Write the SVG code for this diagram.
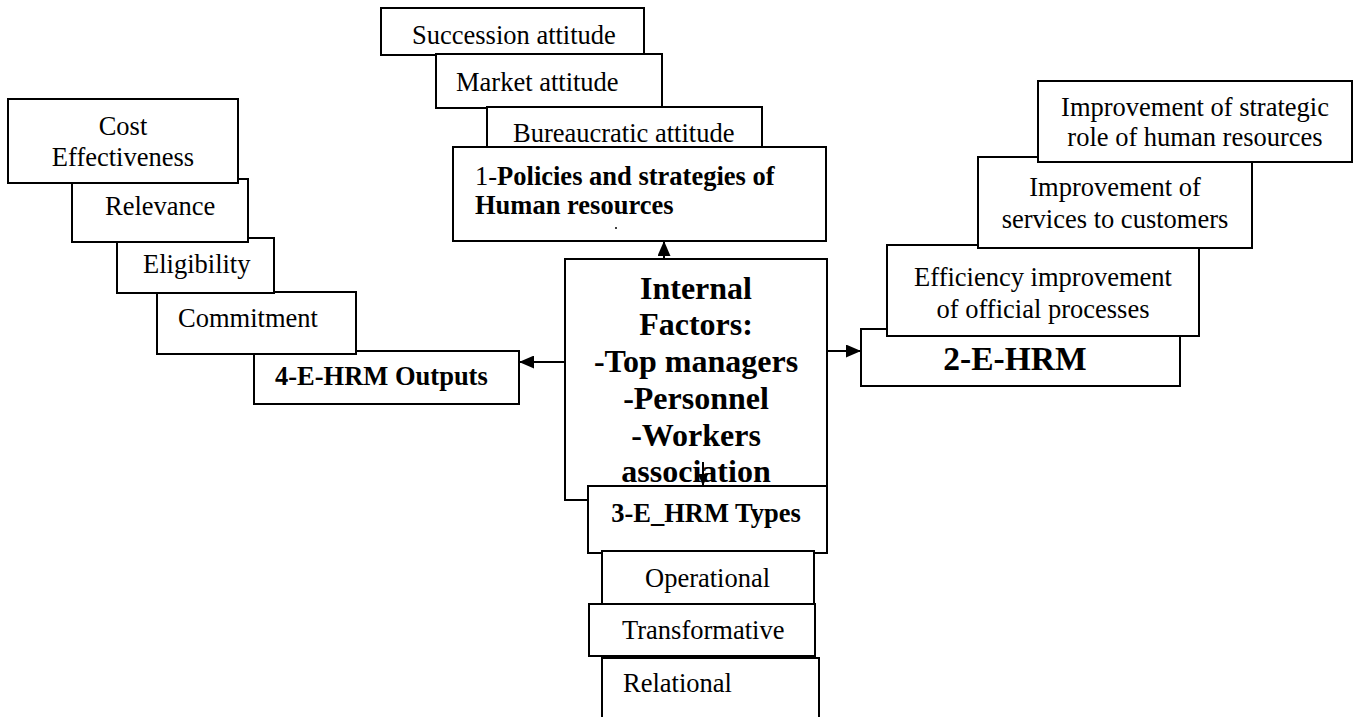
<svg xmlns="http://www.w3.org/2000/svg" width="1357" height="717" viewBox="0 0 1357 717">
<style>
.box{fill:#fff;stroke:#000;stroke-width:2}
.t{font-family:"Liberation Serif","Times New Roman",serif;font-size:26.5px;fill:#000}
.b{font-weight:bold}
.c{text-anchor:middle}
.ln{stroke:#000;stroke-width:2;fill:none}
</style>
<defs>
<marker id="arr" markerUnits="userSpaceOnUse" markerWidth="15" markerHeight="13" refX="15" refY="6.5" orient="auto">
<path d="M0,0 L15,6.5 L0,13 z" fill="#000"/>
</marker>
<marker id="arrs" markerUnits="userSpaceOnUse" markerWidth="12" markerHeight="10" refX="12" refY="5" orient="auto">
<path d="M0,0 L12,5 L0,10 z" fill="#000"/>
</marker>
</defs>
<rect width="1357" height="717" fill="#fff"/>

<g id="succession">
<rect class="box" x="381" y="8" width="263" height="47"/>
<text class="t" x="412" y="44">Succession attitude</text>
</g>
<g id="market">
<rect class="box" x="436" y="54" width="226" height="54"/>
<text class="t" x="456" y="91">Market attitude</text>
</g>
<g id="bureaucratic">
<rect class="box" x="487" y="107" width="275" height="50"/>
<text class="t" x="513" y="142">Bureaucratic attitude</text>
</g>
<g id="policies">
<rect class="box" x="453" y="147" width="373" height="94"/>
<text class="t" x="475" y="185">1-<tspan class="b">Policies and strategies of</tspan></text>
<text class="t b" x="475" y="214">Human resources</text>
<circle cx="616" cy="228" r="1" fill="#000"/>
</g>

<g id="ehrm-outputs">
<rect class="box" x="254" y="351" width="265" height="53"/>
<text class="t b" x="275" y="385">4-E-HRM Outputs</text>
</g>
<g id="commitment">
<rect class="box" x="157" y="292" width="199" height="62"/>
<text class="t" x="178" y="327">Commitment</text>
</g>
<g id="eligibility">
<rect class="box" x="117" y="238" width="157" height="55"/>
<text class="t" x="143" y="273">Eligibility</text>
</g>
<g id="relevance">
<rect class="box" x="72" y="179" width="176" height="63"/>
<text class="t" x="105" y="215">Relevance</text>
</g>
<g id="cost">
<rect class="box" x="8" y="99" width="230" height="84"/>
<text class="t c" x="123" y="135">Cost</text>
<text class="t c" x="123" y="166">Effectiveness</text>
</g>

<g id="ehrm">
<rect class="box" x="861" y="329" width="319" height="57"/>
<text class="t b c" x="1015" y="370" style="font-size:33.5px">2-E-HRM</text>
</g>
<g id="efficiency">
<rect class="box" x="887" y="245" width="312" height="91"/>
<text class="t c" x="1043" y="286">Efficiency improvement</text>
<text class="t c" x="1043" y="318">of official processes</text>
</g>
<g id="services">
<rect class="box" x="978" y="157" width="274" height="91"/>
<text class="t c" x="1115" y="196">Improvement of</text>
<text class="t c" x="1115" y="228">services to customers</text>
</g>
<g id="strategic">
<rect class="box" x="1038" y="81" width="314" height="81"/>
<text class="t c" x="1195" y="116">Improvement of strategic</text>
<text class="t c" x="1195" y="146">role of human resources</text>
</g>

<g id="internal">
<rect class="box" x="565" y="259" width="262" height="241"/>
<g class="t b c" style="font-size:32px">
<text x="696" y="299">Internal</text>
<text x="696" y="335">Factors:</text>
<text x="696" y="372">-Top managers</text>
<text x="696" y="409">-Personnel</text>
<text x="696" y="446">-Workers</text>
<text x="696" y="482">association</text>
</g>
</g>
<g id="types">
<rect class="box" x="588" y="486" width="239" height="67"/>
<text class="t b c" x="706" y="522">3-E_HRM Types</text>
</g>
<g id="operational">
<rect class="box" x="602" y="551" width="212" height="53"/>
<text class="t" x="645" y="587">Operational</text>
</g>
<g id="transformative">
<rect class="box" x="589" y="604" width="226" height="52"/>
<text class="t" x="622" y="639">Transformative</text>
</g>
<g id="relational">
<rect class="box" x="602" y="658" width="217" height="70"/>
<text class="t" x="623" y="692">Relational</text>
</g>

<g id="connectors">
<line class="ln" x1="664" y1="259" x2="664" y2="241" marker-end="url(#arr)"/>
<line class="ln" x1="565" y1="362" x2="519" y2="362" marker-end="url(#arr)"/>
<line class="ln" x1="827" y1="351" x2="861" y2="351" marker-end="url(#arr)"/>
<line class="ln" x1="703" y1="462" x2="703" y2="486" marker-end="url(#arrs)"/>
</g>
</svg>
